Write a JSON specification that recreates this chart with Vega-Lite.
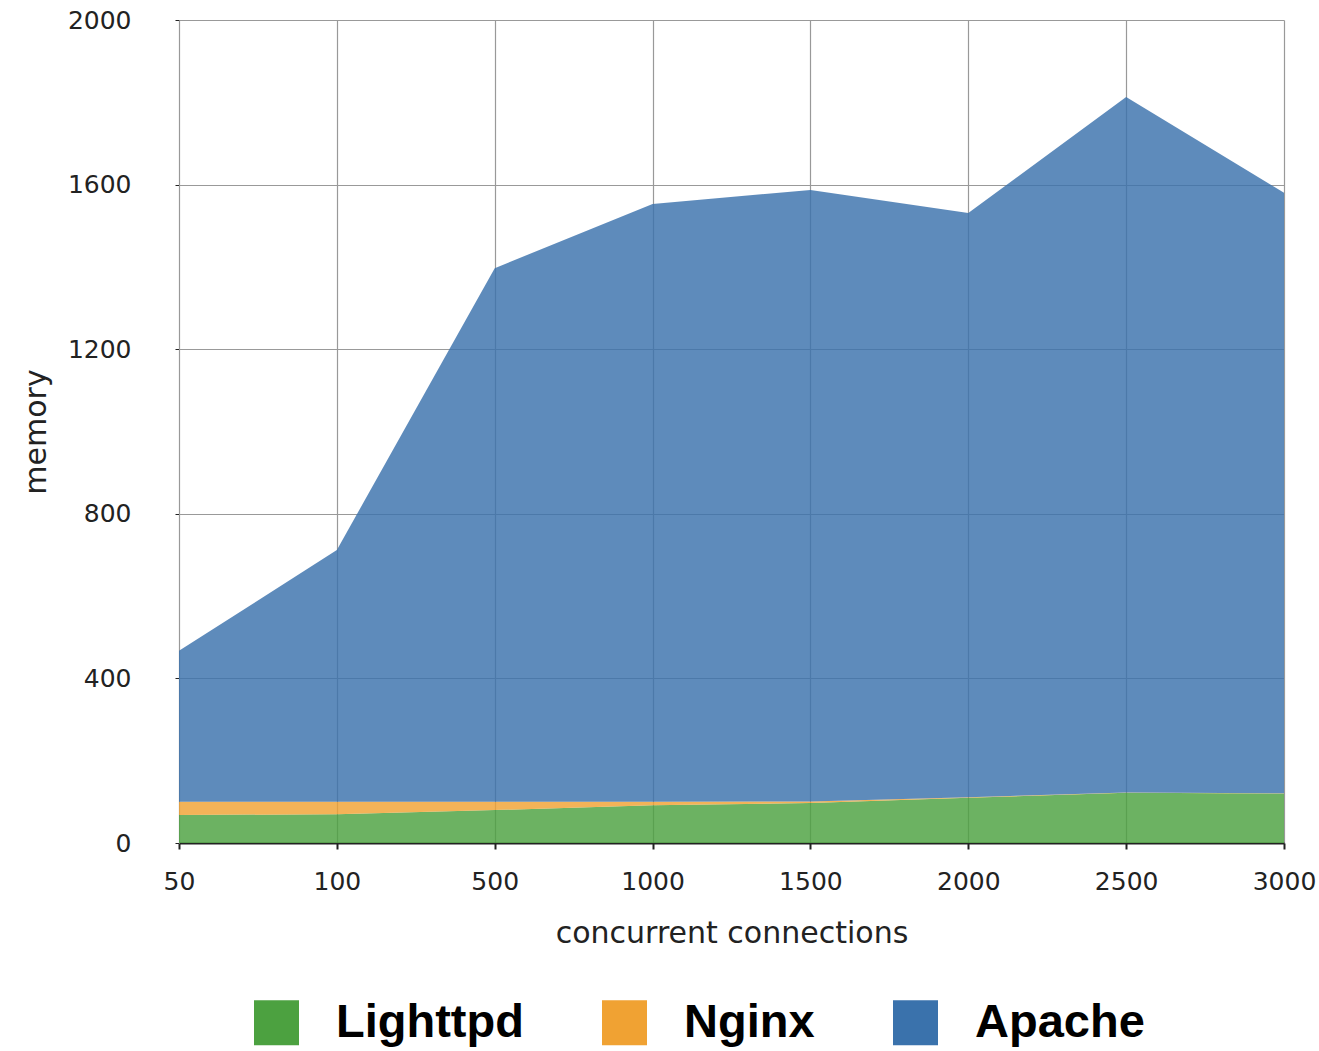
{
  "$schema": "https://vega.github.io/schema/vega-lite/v6.json",
  "width": 1105,
  "height": 823,
  "autosize": "none",
  "padding": {"left": 179, "top": 20, "right": 35, "bottom": 208},
  "background": "white",
  "config": {
    "view": {"stroke": null},
    "font": "DejaVu Sans"
  },
  "data": {
    "values": [
      {"c": "50", "server": "Lighttpd", "memory": 68},
      {"c": "50", "server": "Nginx", "memory": 32},
      {"c": "50", "server": "Apache", "memory": 367},
      {"c": "100", "server": "Lighttpd", "memory": 70},
      {"c": "100", "server": "Nginx", "memory": 30},
      {"c": "100", "server": "Apache", "memory": 612},
      {"c": "500", "server": "Lighttpd", "memory": 80},
      {"c": "500", "server": "Nginx", "memory": 20},
      {"c": "500", "server": "Apache", "memory": 1297},
      {"c": "1000", "server": "Lighttpd", "memory": 92},
      {"c": "1000", "server": "Nginx", "memory": 8},
      {"c": "1000", "server": "Apache", "memory": 1453},
      {"c": "1500", "server": "Lighttpd", "memory": 97},
      {"c": "1500", "server": "Nginx", "memory": 4},
      {"c": "1500", "server": "Apache", "memory": 1486},
      {"c": "2000", "server": "Lighttpd", "memory": 110},
      {"c": "2000", "server": "Nginx", "memory": 1},
      {"c": "2000", "server": "Apache", "memory": 1420},
      {"c": "2500", "server": "Lighttpd", "memory": 122},
      {"c": "2500", "server": "Nginx", "memory": 1},
      {"c": "2500", "server": "Apache", "memory": 1690},
      {"c": "3000", "server": "Lighttpd", "memory": 120},
      {"c": "3000", "server": "Nginx", "memory": 1},
      {"c": "3000", "server": "Apache", "memory": 1459}
    ]
  },
  "transform": [
    {"calculate": "indexof(['Lighttpd','Nginx','Apache'], datum.server)", "as": "ord"}
  ],
  "mark": {"type": "area", "opacity": 0.82, "interpolate": "linear"},
  "encoding": {
    "x": {
      "field": "c",
      "type": "ordinal",
      "sort": ["50", "100", "500", "1000", "1500", "2000", "2500", "3000"],
      "scale": {"type": "point", "padding": 0},
      "axis": {
        "title": "concurrent connections",
        "titleFont": "DejaVu Sans",
        "titleFontSize": 30,
        "titleFontWeight": "normal",
        "titleColor": "#222",
        "titlePadding": 24,
        "labelFont": "DejaVu Sans",
        "labelFontSize": 25,
        "labelColor": "#222",
        "labelAngle": 0,
        "labelPadding": 20,
        "grid": true,
        "gridColor": "#999",
        "gridWidth": 1.2,
        "domainColor": "#222",
        "domainWidth": 2,
        "tickColor": "#222",
        "tickSize": 6,
        "tickWidth": 2
      }
    },
    "y": {
      "field": "memory",
      "type": "quantitative",
      "stack": "zero",
      "scale": {"domain": [0, 2000], "nice": false},
      "axis": {
        "title": "memory",
        "titleFont": "DejaVu Sans",
        "titleFontSize": 30,
        "titleFontWeight": "normal",
        "titleColor": "#222",
        "titlePadding": 16,
        "values": [0, 400, 800, 1200, 1600, 2000],
        "format": "d",
        "labelFont": "DejaVu Sans",
        "labelFontSize": 25,
        "labelColor": "#222",
        "labelPadding": 44,
        "grid": true,
        "gridColor": "#999",
        "gridWidth": 1.2,
        "domainColor": "#999",
        "tickColor": "#222",
        "tickSize": 4,
        "ticks": true
      }
    },
    "order": {"field": "ord", "type": "quantitative"},
    "color": {
      "field": "server",
      "type": "nominal",
      "sort": ["Lighttpd", "Nginx", "Apache"],
      "scale": {
        "domain": ["Lighttpd", "Nginx", "Apache"],
        "range": ["#4ca140", "#f0a233", "#3a72ac"]
      },
      "legend": {
        "title": null,
        "orient": "none",
        "direction": "horizontal",
        "legendX": 74,
        "legendY": 979,
        "symbolType": "square",
        "symbolSize": 2025,
        "symbolOpacity": 1,
        "symbolStrokeWidth": 0,
        "labelFontSize": 47,
        "labelFontWeight": "bold",
        "labelColor": "#000",
        "labelFont": "Liberation Sans",
        "labelLimit": 400,
        "labelOffset": 36,
        "columnPadding": 77,
        "symbolOffset": 0
      }
    }
  }
}
